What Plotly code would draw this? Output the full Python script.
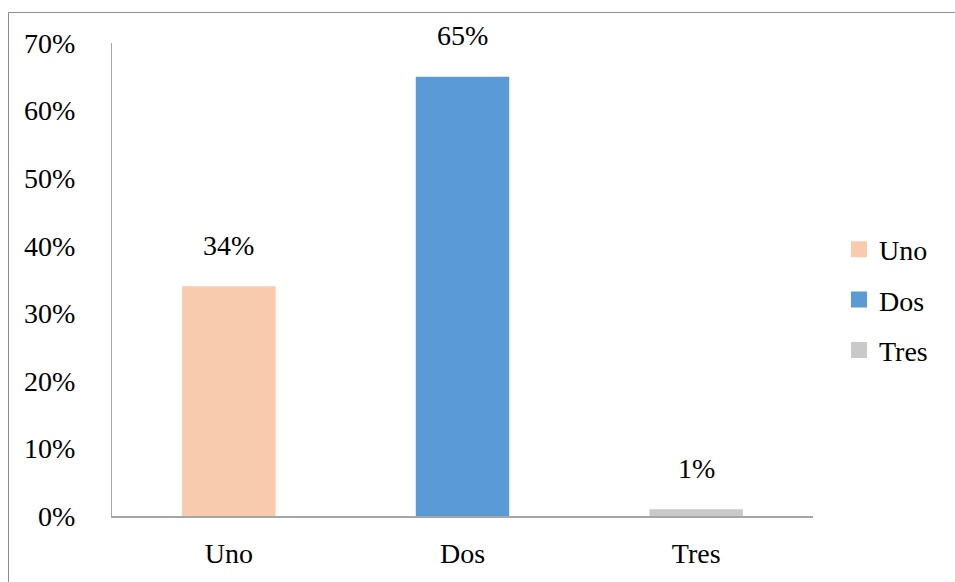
import plotly.graph_objects as go

categories = ["Uno", "Dos", "Tres"]
values = [0.34, 0.65, 0.01]
colors = ["#F8CBAD", "#5B9BD5", "#C9C9C9"]
y_ticks = [0, 0.1, 0.2, 0.3, 0.4, 0.5, 0.6, 0.7]
y_tick_labels = ["0%", "10%", "20%", "30%", "40%", "50%", "60%", "70%"]

FONT = "Liberation Serif, DejaVu Serif, serif"
W, H = 955, 582
ML, MR, MT, MB = 112, 142, 43, 66
PW, PH = W - ML - MR, H - MT - MB

fig = go.Figure()

for cat, val, col in zip(categories, values, colors):
    fig.add_trace(go.Bar(
        x=[cat], y=[val], name=cat, marker=dict(color=col, line=dict(width=0)),
        showlegend=False, width=0.4,
    ))
    # legend swatch
    fig.add_trace(go.Scatter(
        x=[None], y=[None], mode="markers", name=cat, legendgroup=cat,
        marker=dict(symbol="square", size=16, color=col),
    ))

for cat, val in zip(categories, values):
    fig.add_annotation(
        x=cat, y=val, text=f"{round(val * 100)}%", showarrow=False,
        yanchor="middle", yshift=41, font=dict(family=FONT, size=28, color="black"),
    )

# outer frame
def px_to_paper_x(px):
    return (px - ML) / PW

def px_to_paper_y(py):
    return (H - MB - py) / PH

fig.add_shape(
    type="rect", xref="paper", yref="paper",
    x0=px_to_paper_x(8.5), x1=px_to_paper_x(970), y0=px_to_paper_y(600), y1=px_to_paper_y(12.5),
    line=dict(color="#8c8c8c", width=1), fillcolor="rgba(0,0,0,0)", layer="below",
)

fig.update_layout(
    width=W, height=H,
    margin=dict(l=ML, r=MR, t=MT, b=MB, autoexpand=False),
    paper_bgcolor="white", plot_bgcolor="white",
    font=dict(family=FONT, size=28, color="black"),
    barmode="overlay",
    showlegend=True,
    legend=dict(
        x=px_to_paper_x(839), xanchor="left", y=px_to_paper_y(300), yanchor="middle",
        font=dict(family=FONT, size=28, color="black"),
        tracegroupgap=11, itemwidth=30, bgcolor="rgba(0,0,0,0)",
    ),
    xaxis=dict(
        range=[-0.5, 2.5], showline=True, linecolor="#a6a6a6", linewidth=1.5,
        ticks="", showgrid=False, zeroline=False, ticklabelstandoff=12,
        categoryorder="array", categoryarray=categories, automargin=False,
    ),
    yaxis=dict(
        range=[0, 0.7], tickvals=y_ticks, ticktext=y_tick_labels,
        showline=True, linecolor="#a6a6a6", linewidth=1, ticks="",
        showgrid=False, zeroline=False, ticklabelstandoff=30, automargin=False,
    ),
)

fig.write_html("out.html")
